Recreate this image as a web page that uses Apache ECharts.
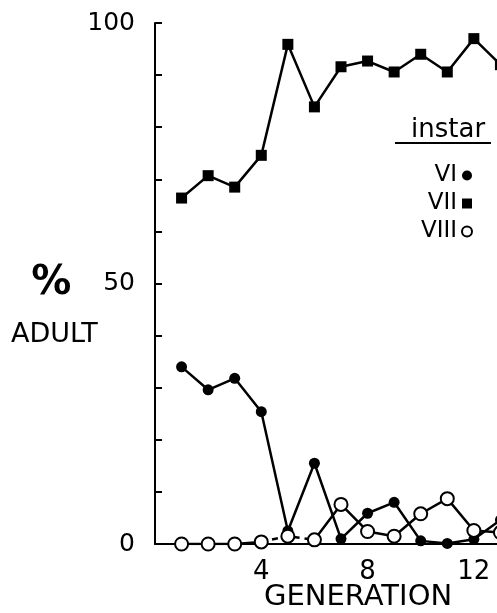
<!DOCTYPE html>
<html lang="en">
  <head>
    <meta charset="UTF-8" />
    <title>% adult by instar</title>
    <script src="https://cdn.jsdelivr.net/npm/echarts@6/dist/echarts.min.js"></script>
    <style>
      body { margin: 0; background: #fff; }
    </style>
  </head>
  <body>
    <div id="chart" style="width: 497px; height: 613px"></div>

    <script type="text/javascript">
      // generations 1..13 (13 is cut off at the right edge of the figure)
      const generations = [1, 2, 3, 4, 5, 6, 7, 8, 9, 10, 11, 12, 13];
      // % adult reached at each instar
      const instarVI = [34.0, 29.6, 31.8, 25.4, 2.5, 15.5, 1.0, 5.9, 8.0, 0.6, 0.1, 0.9, 4.6];
      const instarVII = [66.4, 70.7, 68.5, 74.6, 95.9, 83.9, 91.6, 92.7, 90.6, 94.0, 90.6, 97.0, 92.0];
      const instarVIII = [0, 0, 0, 0.4, 1.5, 0.8, 7.6, 2.4, 1.5, 5.8, 8.7, 2.6, 2.2];
      // VIII is drawn dashed between these generations
      const dashedGens = [4, 5, 6];
      const xTicks = [4, 8, 12];
      const yLabels = [0, 50, 100];

      const pairs = (vals) => generations.map((g, i) => [g, vals[i]]);
      const viiiSolid = generations.map((g, i) =>
        g > dashedGens[0] && g < dashedGens[dashedGens.length - 1] ? [g, null] : [g, instarVIII[i]]
      );
      const viiiDashed = generations
        .map((g, i) => [g, instarVIII[i]])
        .filter((p) => dashedGens.includes(p[0]));

      const chart = echarts.init(document.getElementById("chart"));
      const font = "DejaVu Sans";

      let options = {
        animation: false,
        backgroundColor: "#fff",
        // plot runs past the right edge, like the cropped original
        grid: { left: 155, top: 23, width: 372, height: 521, outerBoundsMode: "none", containLabel: false },
        xAxis: {
          type: "value",
          min: 0,
          max: 14,
          interval: 4,
          axisLine: { onZero: false, lineStyle: { color: "#000", width: 2 } },
          axisTick: { show: false },
          splitLine: { show: false },
          axisLabel: {
            margin: 15,
            color: "#000",
            fontFamily: font,
            fontSize: 26,
            formatter: (v) => (xTicks.includes(v) ? String(v) : ""),
          },
        },
        yAxis: {
          type: "value",
          min: 0,
          max: 100,
          interval: 10,
          axisLine: { show: true, lineStyle: { color: "#000", width: 2 } },
          axisTick: { show: true, inside: true, length: 7, lineStyle: { color: "#000", width: 2 } },
          splitLine: { show: false },
          axisLabel: {
            margin: 20,
            color: "#000",
            fontFamily: font,
            fontSize: 25,
            formatter: (v) =>
              v === 50 ? "{p|%}    50" : yLabels.includes(v) ? String(v) : "",
            rich: {
              p: { fontFamily: font, fontSize: 40, fontWeight: "bold", color: "#000" },
            },
          },
        },
        legend: {
          orient: "vertical",
          right: 19,
          top: 158,
          align: "right",
          itemGap: 3,
          itemWidth: 10,
          itemHeight: 10,
          textStyle: { fontFamily: font, fontSize: 23, color: "#000", lineHeight: 25 },
          data: [
            { name: "VI", icon: "circle", itemStyle: { color: "#000" } },
            { name: "VII", icon: "rect", itemStyle: { color: "#000" } },
            {
              name: "VIII",
              icon: "circle",
              itemStyle: { color: "#fff", borderColor: "#000", borderWidth: 2 },
            },
          ],
        },
        graphic: [
          {
            type: "text",
            left: 411,
            top: 117,
            style: { text: "instar", font: "26px 'DejaVu Sans'", fill: "#000" },
          },
          {
            type: "line",
            shape: { x1: 395, y1: 143, x2: 491, y2: 143 },
            style: { stroke: "#000", lineWidth: 2 },
          },
          {
            type: "text",
            left: 11,
            top: 321,
            style: { text: "ADULT", font: "27px 'DejaVu Sans'", fill: "#000" },
          },
          {
            type: "text",
            left: 264,
            top: 583,
            style: { text: "GENERATION", font: "29px 'DejaVu Sans'", fill: "#000" },
          },
        ],
        series: [
          {
            name: "VIII",
            type: "line",
            data: pairs(instarVIII),
            symbol: "circle",
            symbolSize: 13,
            lineStyle: { width: 0 },
            itemStyle: { color: "#fff", borderColor: "#000", borderWidth: 2 },
            z: 4,
          },
          {
            type: "line",
            data: viiiSolid,
            symbol: "none",
            connectNulls: false,
            lineStyle: { color: "#000", width: 2.5 },
            z: 2,
          },
          {
            type: "line",
            data: viiiDashed,
            symbol: "none",
            lineStyle: { color: "#000", width: 2.5, type: [6, 5] },
            z: 2,
          },
          {
            name: "VI",
            type: "line",
            data: pairs(instarVI),
            symbol: "circle",
            symbolSize: 11,
            lineStyle: { color: "#000", width: 2.5 },
            itemStyle: { color: "#000" },
            z: 3,
          },
          {
            name: "VII",
            type: "line",
            data: pairs(instarVII),
            symbol: "rect",
            symbolSize: 11,
            lineStyle: { color: "#000", width: 2.5 },
            itemStyle: { color: "#000" },
            z: 3,
          },
        ],
      };

      chart.setOption(options);
    </script>
  </body>
</html>
